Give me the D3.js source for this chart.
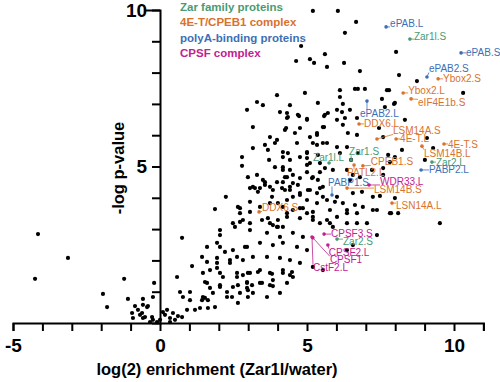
<!DOCTYPE html>
<html><head><meta charset="utf-8">
<script src="https://cdn.jsdelivr.net/npm/d3@7"></script>
<style>body{margin:0;background:#fff}svg{display:block}text{font-family:"Liberation Sans",Arial,sans-serif}</style>
</head><body><svg id="c" width="500" height="382"></svg>
<script>
// background proteins: log2 enrichment and -log p-value
const enrichment = [
-4.15,-3.13,-4.25,-1.22,-0.20,-1.94,-1.80,-1.09,-0.58,-0.85,-0.75,-0.44,-0.68,-0.51,-0.27,-0.95,-0.92,-0.34,-0.10,-0.58,-0.61,-0.58,-0.41,-0.24,-0.24,
0,0.17,0.24,0.34,0.44,0.75,0.92,1.19,1.36,1.63,1.87,1.43,1.53,1.63,1.02,1.02,0.68,0.78,0.58,0.75,1.09,0.10,0.34,0.51,0.61,
1.43,1.60,1.94,2.21,1.70,1.46,1.94,2.04,2.38,2.62,2.89,2.62,2.99,1.53,1.70,2.04,2.28,2.45,2.65,2.65,2.96,2.99,2.55,2.72,2.04,1.94,
1.87,2.72,3.06,3.47,3.74,3.98,4.32,4.76,5.00,5.20,5.44,5.78,6.02,6.36,6.70,7.24,7.82,7.38,6.70,6.56,6.36,2.48,2.04,3.06,3.64,4.08,4.52,4.86,
1.60,2.04,2.48,2.96,3.40,3.84,4.18,4.66,5.00,1.94,2.38,2.82,3.16,3.64,4.08,4.42,4.76,5.20,5.54,2.14,2.62,3.06,3.40,3.74,4.18,4.52,
1.60,2.04,2.48,2.96,3.40,3.84,4.32,1.80,2.28,2.72,3.16,3.64,4.08,1.46,
2.82,3.33,3.81,4.18,4.49,4.42,3.13,3.47,3.74,3.84,2.96,2.99,
3.16,4.25,3.74,3.57,3.91,3.98,3.67,3.16,4.18,4.18,4.35,2.79,2.79,3.71,4.18,3.91,3.30,2.99,3.57,3.57,3.98,3.74,3.16,3.40,3.33,4.15,4.25,4.32,3.81,3.06,2.24,2.65,2.72,2.82,3.40,3.74,4.01,3.67,4.01,4.18,4.01,3.84,3.06,
3.30,2.96,3.50,4.42,4.08,4.32,4.35,4.69,5.00,5.37,5.61,4.76,4.59,5.00,5.34,5.54,5.34,5.54,5.10,5.00,5.10,4.42,3.50,4.18,4.52,4.69,5.17,5.37,3.23,3.84,4.42,4.76,5.10,5.34,5.54,5.54,3.06,
5.20,6.05,6.67,6.29,4.80,5.61,4.63,5.10,5.24,5.68,6.26,6.80,8.03,8.13,8.74,10.31,4.93,3.98,6.12,6.12,6.63,6.73,6.97,7.72,7.79,7.55,7.65,7.96,6.22,4.32,4.73,5.00,5.58,5.71,6.02,6.19,6.29,6.70,5.58,4.29,7.45,
6.46,7.99,6.02,6.22,6.39,6.70,5.34,4.66,5.20,5.68,6.02,6.12,6.36,6.73,7.59,7.76,7.99,8.23,7.82,7.59,7.59,7.21,6.80,6.56,6.46,6.36,5.88,5.61,5.44,5.20,5.00,4.76,4.52,4.25,4.42,4.76,5.00,5.37,5.44,5.00,4.18,4.42,5.03,5.44,
6.02,6.56,6.87,7.24,7.48,7.99,8.10,7.38,6.90,6.63,6.22,5.95,5.68,5.34,5.00,4.76,4.52,4.32,4.18,4.52,4.86,5.20,5.78,6.36,5.68,5.20,4.76,4.32,5.88,6.36,7.04,9.52,9.01,9.29,9.08,8.33,7.86,6.50
];
const negLogP = [
2.84,2.08,1.41,1.41,1.28,0.93,0.51,0.77,0.77,0.54,0.42,0.51,0.26,0.19,0.19,0.32,0.16,0.03,0.03,0.16,0.32,0.58,0.54,0.83,0.10,
0.10,0.26,0.42,0.16,0.32,0.19,0.42,0.42,0.48,0.48,0.51,0.73,0.80,0.73,0.73,0.99,0.99,0.83,1.47,2.72,1.82,0.35,0.03,0.10,0.22,
2.11,1.95,2.08,2.27,1.69,1.60,1.76,1.60,1.92,2.11,2.43,1.60,1.60,1.31,1.12,1.21,0.99,0.83,0.64,1.21,1.31,1.05,3.07,3.23,2.81,2.56,
3.64,3.67,3.55,3.29,3.19,3.07,3.51,3.67,3.51,3.39,3.19,3.19,3.39,3.51,3.51,3.61,3.51,2.81,3.19,2.49,2.33,3.19,2.97,2.97,2.88,2.75,2.88,2.75,
2.43,2.43,2.33,2.43,2.56,2.49,2.56,2.43,2.33,1.92,2.01,2.01,2.11,2.11,2.08,2.01,1.92,1.79,1.69,1.47,1.47,1.60,1.69,1.60,1.69,1.47,
1.28,1.15,1.15,1.28,1.28,1.37,1.28,0.96,0.83,0.96,0.96,0.83,0.96,0.83,
1.53,1.63,1.57,1.60,1.63,1.53,1.21,1.28,1.21,1.18,1.12,0.83,
6.26,6.17,5.94,5.69,5.75,5.85,5.53,5.59,5.46,5.30,5.43,5.30,5.02,5.21,4.89,4.98,4.73,4.66,4.50,4.41,4.50,4.35,4.35,4.31,4.19,4.31,4.25,4.66,4.03,3.87,4.03,3.71,3.51,3.29,3.71,3.83,3.83,3.35,3.29,3.07,3.07,3.13,3.19,
7.06,6.81,6.96,6.96,6.74,6.71,6.58,6.65,6.49,7.03,6.65,6.23,6.07,5.46,5.69,5.75,6.01,6.26,5.94,5.27,5.11,4.89,4.57,4.50,4.47,4.41,4.63,4.57,4.31,4.25,4.25,4.15,4.25,4.15,4.35,4.03,4.31,
9.97,9.97,9.62,9.27,8.85,8.59,8.37,8.43,8.31,8.18,8.31,8.05,8.66,7.92,7.73,7.35,7.35,7.28,7.44,7.22,7.48,7.48,7.48,7.44,7.44,7.16,6.90,7.00,7.00,6.55,6.61,6.52,6.61,6.71,6.81,6.74,6.55,6.55,6.26,6.23,6.23,
6.81,7.03,6.49,6.33,6.07,6.01,6.07,5.75,5.75,5.75,5.62,5.43,5.62,5.43,5.94,5.37,5.30,5.53,5.14,4.95,4.73,4.89,4.66,4.73,4.57,4.89,4.89,4.95,4.82,4.66,4.82,4.63,4.73,4.66,5.21,5.30,5.43,5.37,5.11,5.05,4.98,4.35,4.25,4.31,
4.03,4.15,4.19,4.03,4.06,3.99,3.51,3.61,3.71,3.77,3.83,3.87,3.93,3.83,3.93,4.09,4.03,3.93,3.71,3.61,3.67,3.55,3.61,3.61,3.29,3.29,3.35,3.39,3.07,3.19,3.19,3.19,5.21,5.59,5.91,6.49,3.51,5.21
];

// highlighted proteins
const labelNames = ["ePAB.L","Zar1l.S","ePAB.S","ePAB2.S","Ybox2.S","Ybox2.L","eIF4E1b.S","ePAB2.L","DDX6.L","LSM14A.S","4E-T.L","4E-T.S","LSM14B.L","Zar2.L","PABP2.L","Zar1.S","Zar1l.L","CPEB1.S","PATL2.L","PABP1.S","WDR33.L","LSM14B.S","LSN14A.L","DDX6.S","CPSF3.S","Zar2.S","CPSF2.L","CPSF1","CstF2.L"];
const labelEnrich = [7.69,8.50,10.24,9.08,9.46,8.27,8.54,7.04,6.77,7.38,8.03,9.66,8.91,9.25,8.88,6.50,5.75,6.90,6.60,5.85,7.11,6.36,7.89,3.37,5.58,6.02,5.71,5.20,5.17];
const labelNegLogP = [9.46,9.07,8.63,7.86,7.80,7.35,7.16,7.09,6.36,5.88,5.88,5.72,5.65,5.14,4.89,5.21,5.11,5.02,5.05,4.09,4.41,4.31,3.83,3.55,2.84,2.68,2.49,2.72,2.75];
const labelGroup = [2,0,2,2,1,1,1,2,1,1,1,1,1,0,2,0,0,1,1,2,3,1,1,1,3,0,3,3,3];

const legendLabels = ["Zar family proteins","4E-T/CPEB1 complex","polyA-binding proteins","CPSF complex"];
const groupColors = ["#4a9a72","#d9722c","#3d6fb6","#c2208f"];

const xTicksMajor = [-5,0,5,10];
const yTicksMajor = [5,10];

// ---- drawing ----
const svg = d3.select("#c");
const x = d3.scaleLinear().domain([-5,11]).range([13,483.4]);
const y = d3.scaleLinear().domain([0,10]).range([323,10]);

// axes
const xAxis = d3.axisBottom(x).tickValues(d3.range(-5,12,1)).tickSize(8).tickFormat(d => xTicksMajor.includes(d) ? d : "");
const gx = svg.append("g").attr("transform",`translate(0,${y(0)})`).call(xAxis);
gx.select(".domain").attr("stroke","#000").attr("stroke-width",2);
gx.selectAll(".tick line").attr("stroke","#000").attr("stroke-width",2);
gx.selectAll(".tick text").attr("font-size",19).attr("font-weight","bold").attr("fill","#000").attr("dy","0.95em");

const yAxis = d3.axisLeft(y).tickValues(d3.range(1,11,1)).tickSize(8).tickFormat(d => yTicksMajor.includes(d) ? d : "");
const gy = svg.append("g").attr("transform",`translate(${x(0)},0)`).call(yAxis);
gy.select(".domain").attr("stroke","#000").attr("stroke-width",2);
gy.selectAll(".tick line").attr("stroke","#000").attr("stroke-width",2);
gy.selectAll(".tick text").attr("font-size",19).attr("font-weight","bold").attr("fill","#000").attr("dx","-0.1em");
gy.selectAll(".tick").filter(d => d===10).select("line").attr("x2",-14);

// titles
svg.append("text").attr("x",217).attr("y",375).attr("text-anchor","middle")
  .attr("font-size",16.5).attr("font-weight","bold").text("log(2) enrichment (Zar1l/water)");
svg.append("text").attr("transform","translate(124,168) rotate(-90)").attr("text-anchor","middle")
  .attr("font-size",16.5).attr("font-weight","bold").text("-log p-value");

// background points
const pts = enrichment.map((e,i)=>({e, p:negLogP[i]}));
svg.append("g").selectAll("circle").data(pts).join("circle")
  .attr("cx",d=>x(d.e)).attr("cy",d=>y(d.p)).attr("r",2.1).attr("fill","#000");

// labeled points
const offsets = {"ePAB.L":[4,-3],"Zar1l.S":[4,-3],"ePAB.S":[5,0],"ePAB2.S":[2,-8],"Ybox2.S":[5,0],"Ybox2.L":[5,-2],"eIF4E1b.S":[7,4],"ePAB2.L":[-7,12],"DDX6.L":[5,0],"LSM14A.S":[16,-8],"4E-T.L":[4,0],"4E-T.S":[4,1],"LSM14B.L":[2,7],"Zar2.L":[4,0],"PABP2.L":[8,0],"Zar1.S":[-2,-8],"Zar1l.L":[-16,-6],"CPEB1.S":[8,-4],"PATL2.L":[-7,8],"PABP1.S":[-4,-12],"WDR33.L":[11,-3],"LSM14B.S":[27,1],"LSN14A.L":[4,2],"DDX6.S":[3,-4],"CPSF3.S":[7,-1],"Zar2.S":[6,2],"CPSF2.L":[1,7],"CPSF1":[17,22],"CstF2.L":[1,31]};
const labs = labelNames.map((n,i)=>({n, e:labelEnrich[i], p:labelNegLogP[i], g:labelGroup[i]}));
const lg = svg.append("g");
labs.forEach(d=>{
  const cx = x(d.e), cy = y(d.p), col = groupColors[d.g];
  const [dx,dy] = offsets[d.n];
  const t = lg.append("text").attr("x",cx+dx).attr("y",cy+dy).attr("dy","0.35em")
     .attr("font-size",10).attr("fill",col).text(d.n);
  const b = t.node().getBBox();
  const px = Math.max(b.x, Math.min(cx, b.x+b.width));
  const py = Math.max(b.y+2, Math.min(cy, b.y+b.height-2));
  if (Math.hypot(px-cx, py-cy) > 3) {
    lg.append("line").attr("x1",cx).attr("y1",cy).attr("x2",px).attr("y2",py)
      .attr("stroke",col).attr("stroke-width",0.8);
  }
  lg.append("circle").attr("cx",cx).attr("cy",cy).attr("r",1.8).attr("fill",col);
});

// legend
svg.append("g").selectAll("text").data(legendLabels).join("text")
  .attr("x",180).attr("y",(d,i)=>7+i*15.3).attr("dy","0.35em")
  .attr("font-size",11.5).attr("font-weight","bold")
  .attr("fill",(d,i)=>groupColors[i]).text(d=>d);
</script></body></html>
